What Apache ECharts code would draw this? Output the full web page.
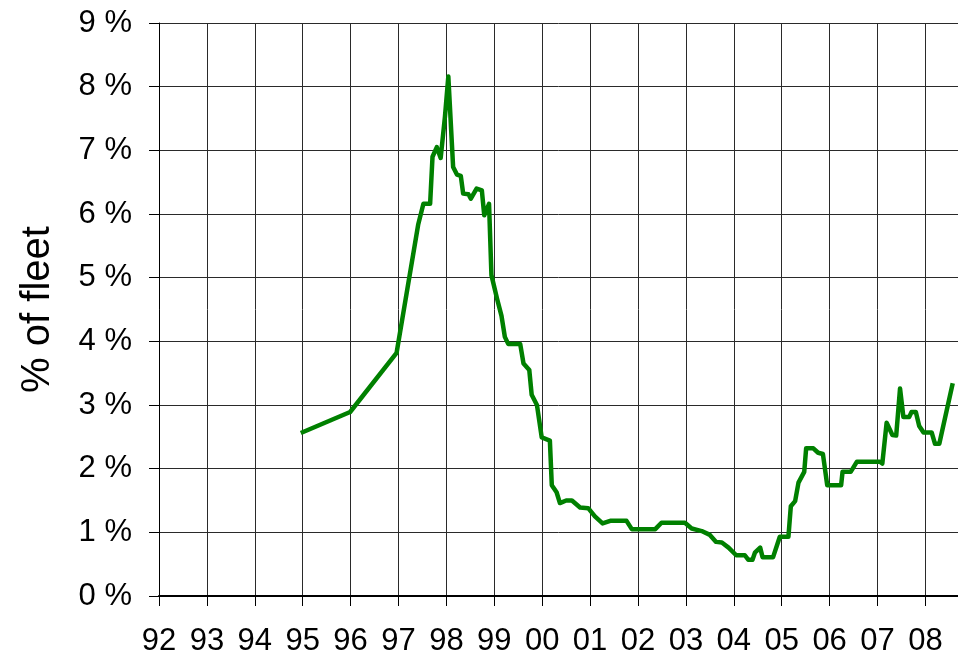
<!DOCTYPE html>
<html style="height: 100%">

<head>
  <meta charset="utf-8">
  <script src="https://cdn.jsdelivr.net/npm/echarts@6/dist/echarts.min.js"></script>
</head>

<body style="height: 100%; margin: 0; background: #fff">
  <div id="main" style="width: 958px; height: 661px"></div>

  <script type="text/javascript">
    // time in decimal years, share of fleet in %
    var years = [
      1994.96, 1995.99, 1996.96, 1997.41, 1997.52, 1997.66, 1997.71, 1997.80, 1997.88, 1997.97,
      1998.04, 1998.14, 1998.22, 1998.30, 1998.35, 1998.46, 1998.51, 1998.63, 1998.74, 1998.79,
      1998.89, 1998.94, 1999.06, 1999.15, 1999.22, 1999.29, 1999.39, 1999.54, 1999.61, 1999.73,
      1999.78, 1999.89, 1999.99, 2000.16, 2000.20, 2000.30, 2000.37, 2000.50, 2000.62, 2000.79,
      2000.96, 2001.10, 2001.26, 2001.42, 2001.76, 2001.87, 2002.36, 2002.49, 2002.98, 2003.12,
      2003.33, 2003.50, 2003.63, 2003.75, 2003.89, 2004.05, 2004.23, 2004.30, 2004.39, 2004.44,
      2004.55, 2004.60, 2004.82, 2004.96, 2005.14, 2005.19, 2005.28, 2005.35, 2005.47, 2005.51,
      2005.66, 2005.76, 2005.86, 2005.95, 2006.24, 2006.27, 2006.44, 2006.57, 2007.05, 2007.10,
      2007.19, 2007.31, 2007.39, 2007.47, 2007.54, 2007.66, 2007.71, 2007.80, 2007.87, 2007.96,
      2008.13, 2008.20, 2008.29, 2008.57
    ];
    var fleetPct = [
      2.56, 2.89, 3.82, 5.83, 6.16, 6.16, 6.90, 7.05, 6.88, 7.53,
      8.16, 6.74, 6.62, 6.60, 6.32, 6.31, 6.24, 6.40, 6.37, 5.98,
      6.16, 5.04, 4.66, 4.40, 4.07, 3.96, 3.96, 3.96, 3.65, 3.55,
      3.16, 3.00, 2.49, 2.44, 1.74, 1.63, 1.46, 1.50, 1.50, 1.39,
      1.38, 1.25, 1.14, 1.18, 1.18, 1.05, 1.05, 1.15, 1.15, 1.06,
      1.02, 0.96, 0.85, 0.84, 0.76, 0.64, 0.64, 0.57, 0.57, 0.68,
      0.76, 0.61, 0.61, 0.93, 0.93, 1.41, 1.49, 1.78, 1.95, 2.32,
      2.32, 2.25, 2.23, 1.74, 1.74, 1.95, 1.95, 2.11, 2.11, 2.08,
      2.72, 2.53, 2.52, 3.26, 2.81, 2.81, 2.89, 2.89, 2.67, 2.57,
      2.57, 2.39, 2.39, 3.34
    ];
    var yTicks = [0, 1, 2, 3, 4, 5, 6, 7, 8, 9];

    var points = years.map(function (y, i) { return [y, fleetPct[i]]; });

    var myChart = echarts.init(document.getElementById('main'), null, { renderer: 'canvas' });
    var font = 'Liberation Sans, Arial, sans-serif';
    var option = {
      animation: false,
      grid: { left: 159, right: 0, top: 23, bottom: 65, containLabel: false },
      xAxis: {
        type: 'value',
        min: 1992,
        max: 2008.68,
        interval: 1,
        axisLine: { show: true, lineStyle: { color: '#000', width: 2 } },
        axisTick: { show: true, length: 10, lineStyle: { color: '#000', width: 1 } },
        axisLabel: {
          margin: 30,
          color: '#000',
          fontFamily: font,
          fontSize: 31,
          showMaxLabel: false,
          formatter: function (v) {
            if (v !== Math.round(v)) return '';
            return String(v % 100).padStart(2, '0');
          }
        },
        splitLine: { show: true, lineStyle: { color: '#2a2a2a', width: 1 } }
      },
      yAxis: {
        type: 'value',
        min: yTicks[0],
        max: yTicks[yTicks.length - 1],
        interval: 1,
        name: '% of fleet',
        nameLocation: 'middle',
        nameRotate: 90,
        nameGap: 101,
        nameTextStyle: { color: '#000', fontFamily: font, fontSize: 40 },
        axisLine: { show: true, lineStyle: { color: '#000', width: 1 } },
        axisTick: { show: true, length: 10, lineStyle: { color: '#000', width: 1 } },
        axisLabel: {
          margin: 27,
          color: '#000',
          fontFamily: font,
          fontSize: 31,
          formatter: '{value} %'
        },
        splitLine: { show: true, lineStyle: { color: '#2a2a2a', width: 1 } }
      },
      series: [{
        name: '% of fleet',
        type: 'line',
        data: points,
        symbol: 'none',
        lineStyle: { color: '#008000', width: 4.5, join: 'round' },
        itemStyle: { color: '#008000' }
      }]
    };
    myChart.setOption(option);
  </script>
</body>

</html>
